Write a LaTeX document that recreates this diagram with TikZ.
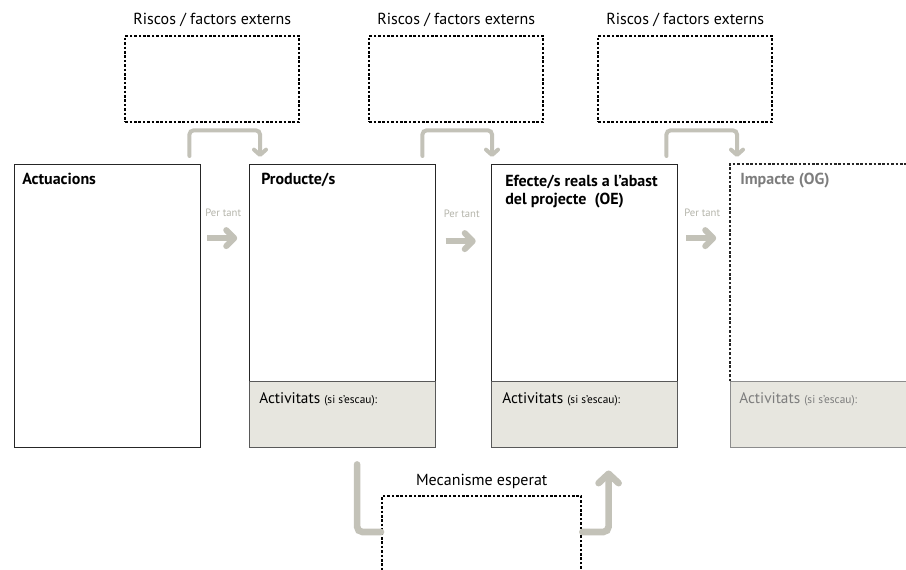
\documentclass[tikz,border=0pt]{standalone}
\usepackage{fontspec}
\setmainfont{PT Sans}
\usetikzlibrary{positioning, calc, arrows.meta}

\definecolor{fletxa}{HTML}{C3C2B8}
\definecolor{fonsact}{HTML}{E7E6DF}
\definecolor{grisfosc}{HTML}{7D7D7D}
\definecolor{grisclar}{HTML}{B4B4AA}

\tikzset{
  caixa/.style={draw=black!85, line width=1.1pt, minimum width=186*0.75pt,
    minimum height=283*0.75pt, anchor=north west, inner sep=0},
  activ/.style={draw=black!65, line width=0.9pt, fill=fonsact, minimum width=186*0.75pt,
    minimum height=66*0.75pt, anchor=south west, inner sep=0},
  puntejat/.style={line width=1.8pt, dash pattern=on 2pt off 1.3pt},
  risc/.style={draw, puntejat, minimum width=174*0.75pt, minimum height=86*0.75pt,
    anchor=north west, inner sep=0},
  titol/.style={font=\bfseries\fontsize{12}{13.5}\selectfont, anchor=base west,
    inner sep=0, align=left},
  etiq/.style={font=\fontsize{12}{14}\selectfont, anchor=base, inner sep=0},
  acttext/.style={anchor=base west, inner sep=0, font=\fontsize{11.5}{13}\selectfont},
  pertant/.style={font=\fontsize{8}{9}\selectfont, text=grisclar, inner sep=0},
  colze/.style={draw=fletxa, line width=3pt, rounded corners=3pt, line cap=round,
    -{Straight Barb[round, length=4pt, width=9pt]}},
  colzegros/.style={draw=fletxa, line width=5pt, rounded corners=4pt, line cap=round},
  fletxapt/.style={draw=fletxa, line width=4.5pt,
    -{Straight Barb[round, length=6pt, width=12pt]}}
}
\newcommand{\escau}{{\fontsize{8.5}{10}\selectfont(si s’escau):}}

\begin{document}
\begin{tikzpicture}[x=0.75pt, y=-0.75pt]
    \clip (0,0) rectangle (906,570);

    % caixes principals
    \node[caixa] (act) at (14,164) {};
    \node[caixa] (prod) at (249,164) {};
    \node[caixa] (efec) at (491,164) {};
    \node[caixa, draw=none] (imp) at (730,164) {};

    % activitats
    \node[activ] (prodA) at (prod.south west) {};
    \node[activ] (efecA) at (efec.south west) {};
    \node[activ, draw=black!45] (impA) at (imp.south west) {};
    \draw[puntejat, black!85] (impA.north west) |- (imp.north east);

    % titols
    \node[titol] (actT) at ($(act.north west)+(8,21)$) {Actuacions};
    \node[titol] (prodT) at ($(prod.north west)+(12,21)$) {Producte/s};
    \node[titol] (efecT) at ($(efec.north west)+(14,41)$) {Efecte/s reals a l’abast\\del projecte \ (OE)};
    \node[titol, text=grisfosc] (impT) at ($(imp.north west)+(10,21)$) {Impacte (OG)};

    \node[acttext] (prodAT) at ($(prodA.north west)+(10,22)$) {Activitats \escau};
    \node[acttext] (efecAT) at ($(efecA.north west)+(11,22)$) {Activitats \escau};
    \node[acttext, text=grisfosc] (impAT) at ($(impA.north west)+(9,22)$) {Activitats \escau};

    % riscos
    \node[risc] (r1) at (124,35) {};
    \node[risc] (r2) at (368,35) {};
    \node[risc] (r3) at (597,35) {};
    \node[etiq] (r1T) at ($(r1.north)+(0,-10)$) {Riscos / factors externs};
    \node[etiq] (r2T) at ($(r2.north)+(0,-10)$) {Riscos / factors externs};
    \node[etiq] (r3T) at ($(r3.north)+(0,-10)$) {Riscos / factors externs};

    % fletxes dels riscos
    \draw[colze] ($(act.north east)+(-12,-8)$) |- ($(r1.south)+(0,7)$) -| ($(prod.north west)+(11,-7)$);
    \draw[colze] ($(prod.north east)+(-14,-8)$) |- ($(r2.south)+(0,7)$) -| ($(efec.north west)+(1,-7)$);
    \draw[colze] ($(efec.north east)+(-12,-8)$) |- ($(r3.south)+(0,7)$) -| ($(imp.north west)+(7,-7)$);

    % per tant
    \node[pertant] (pt1) at ($(act.north east)!0.5!(prod.north west)+(-2,49)$) {Per tant};
    \node[pertant] (pt2) at ($(prod.north east)!0.5!(efec.north west)+(-2,50)$) {Per tant};
    \node[pertant] (pt3) at ($(efec.north east)!0.5!(imp.north west)+(-2,49)$) {Per tant};
    \draw[fletxapt] ($(pt1.south)+(-16,21)$) -- ++(30,0);
    \draw[fletxapt] ($(pt2.south)+(-16,23)$) -- ++(30,0);
    \draw[fletxapt] ($(pt3.south)+(-16,21)$) -- ++(30,0);

    % mecanisme
    \node[risc, minimum width=199*0.75pt, minimum height=120*0.75pt] (mec) at (381,495) {};
    \node[etiq] (mecT) at ($(mec.north)+(0,-10)$) {Mecanisme esperat};
    \draw[colzegros] ($(prodA.south)+(14.5,16)$) |- ($(mec.north west)+(0,37)$);
    \draw[colzegros, -{Straight Barb[round, length=7pt, width=15pt]}]
        ($(mec.north east)+(0,37)$) -| ($(efecA.south)+(24,22)$);
\end{tikzpicture}
\end{document}
